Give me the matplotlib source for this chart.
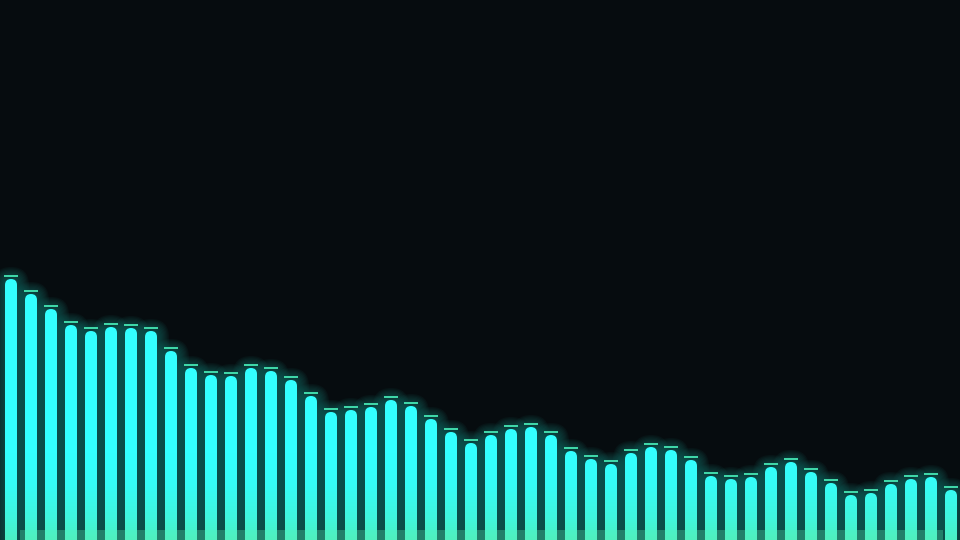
import numpy as np
import matplotlib
matplotlib.use('Agg')
import matplotlib.pyplot as plt
from matplotlib.patches import FancyBboxPatch, Rectangle
from matplotlib.colors import LinearSegmentedColormap

# Spectrum levels (bar heights, one per band)
levels = [261, 246, 231, 215, 209, 213, 212, 209, 189, 172, 165, 164,
          172, 169, 160, 144, 128, 130, 133, 140, 134, 121, 108, 97,
          105, 111, 113, 105, 89, 81, 76, 87, 93, 90, 80, 64,
          61, 63, 73, 78, 68, 57, 45, 47, 56, 61, 63, 50]
bands = np.arange(len(levels))

bg = '#060c0f'
bar_w = 0.6        # in band units (1 band = 20 px)
radius = 0.3
aspect = 20        # y units per x unit in pixels
cap_gap, cap_h = 2, 2.2

fig = plt.figure(figsize=(9.6, 5.4), dpi=100, facecolor=bg)
ax = fig.add_axes([0, 0, 1, 1])
ax.set_facecolor(bg)
ax.set_xlim(-0.55, 47.45)
ax.set_ylim(0, 540)
ax.axis('off')

# green near the floor, cyan above
cmap = LinearSegmentedColormap.from_list(
    'bar', [(0, '#4aefc4'), (0.04, '#40f6de'), (0.1, '#36fcf6'), (0.16, '#33ffff'), (1, '#33ffff')])
grad = np.linspace(0, 1, 512).reshape(-1, 1)

for x, h in zip(bands, levels):
    # glow
    for k in range(1, 11):
        pad = k * 0.06
        g = FancyBboxPatch((x - bar_w / 2 - pad, -30), bar_w + 2 * pad, h + 30 + pad * aspect,
                           boxstyle='round,pad=0,rounding_size=%f' % (radius + pad),
                           mutation_aspect=aspect, fc='#156a64', ec='none', alpha=0.09, zorder=1)
        ax.add_patch(g)
    bar = FancyBboxPatch((x - bar_w / 2, -30), bar_w, h + 30,
                         boxstyle='round,pad=0,rounding_size=%f' % radius,
                         mutation_aspect=aspect, fc='none', ec='none', zorder=2)
    ax.add_patch(bar)
    im = ax.imshow(grad, cmap=cmap, aspect='auto', origin='lower',
                   extent=(x - bar_w / 2, x + bar_w / 2, 0, 540), zorder=2)
    im.set_clip_path(bar)
    # peak cap
    ax.add_patch(Rectangle((x - 0.35, h + cap_gap), 0.7, cap_h, fc='#3fd6a8', ec='none', zorder=3))

# floor strip
ax.add_patch(Rectangle((0.45, 0), 46.15, 10, fc='#5cf0b4', ec='none', alpha=0.3, zorder=4))

fig.savefig('out.png', dpi=100, facecolor=bg)
